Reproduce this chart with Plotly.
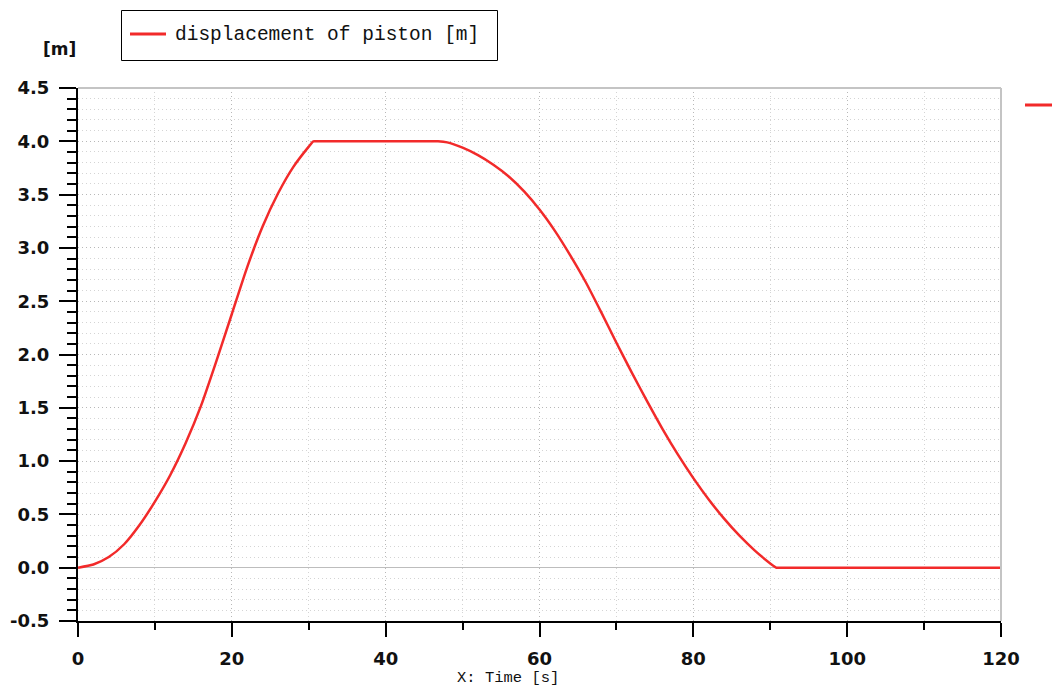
import plotly.graph_objects as go

# time [s] and displacement of piston [m]
time_s = [0.0, 2.0, 4.0, 6.0, 8.0, 10.0, 12.0, 14.0, 16.0, 18.0, 20.0, 22.0,
          24.0, 26.0, 28.0, 30.0, 30.6, 31.0,
          46.4, 46.8, 48.0, 50.0, 52.0, 54.0, 56.0, 58.0, 60.0, 62.0, 64.0, 66.0,
          68.0, 70.0, 72.0, 74.0, 76.0, 78.0, 80.0, 82.0, 84.0, 86.0, 88.0, 90.0,
          90.8, 91.2, 120.0]
displacement_m = [0.0, 0.03, 0.10, 0.22, 0.40, 0.62, 0.87, 1.17, 1.52, 1.94, 2.38, 2.82,
                  3.20, 3.51, 3.76, 3.95, 4.0, 4.0,
                  4.0, 4.0, 3.99, 3.94, 3.87, 3.78, 3.67, 3.53, 3.36, 3.16, 2.93, 2.68,
                  2.40, 2.11, 1.83, 1.56, 1.30, 1.06, 0.84, 0.64, 0.46, 0.30, 0.16, 0.04,
                  0.0, 0.0, 0.0]

x_ticks = [0, 20, 40, 60, 80, 100, 120]
y_ticks = [-0.5, 0.0, 0.5, 1.0, 1.5, 2.0, 2.5, 3.0, 3.5, 4.0, 4.5]
y_tick_labels = ["-0.5", "0.0", "0.5", "1.0", "1.5", "2.0", "2.5", "3.0", "3.5", "4.0", "4.5"]

series_name = "displacement of piston [m]"
x_title = "X: Time [s]"
y_unit = "[m]"

RED = "#f22a2a"
TICKFONT = dict(family="DejaVu Sans", size=18, color="#111111")
OFF = 8  # page body margin in the browser
W, H = 1060 - OFF, 691 - OFF
L, T = 78 - OFF, 88 - OFF
R, B = 59, 70
PW, PH = W - L - R, H - T - B


def px_x(px):
    return (px - OFF - L) / PW


def px_y(py):
    return (H - B - (py - OFF)) / PH


fig = go.Figure()
fig.add_trace(go.Scatter(x=time_s, y=displacement_m, mode="lines", name=series_name,
                         line=dict(color=RED, width=2.5, shape="spline", smoothing=0.6),
                         showlegend=False))

fig.update_layout(
    width=W, height=H,
    margin=dict(l=L, r=R, t=T, b=B, autoexpand=False),
    paper_bgcolor="white", plot_bgcolor="white",
    showlegend=False,
)

fig.update_xaxes(
    range=[0, 120], tickvals=x_ticks, ticktext=["<b>%d</b>" % v for v in x_ticks],
    automargin=False,
    showline=True, linecolor="black", linewidth=2,
    ticks="outside", ticklen=14, tickwidth=2, tickcolor="black",
    tickfont=TICKFONT, ticklabelstandoff=6,
    showgrid=True, gridcolor="#b8b8b8", gridwidth=1, griddash="1px,3px",
    zeroline=False,
    minor=dict(dtick=10, tick0=0, ticks="outside", ticklen=7, tickwidth=2, tickcolor="black",
               showgrid=True, gridcolor="#d4d4d4", gridwidth=1, griddash="1px,3px"),
)
fig.update_yaxes(
    range=[-0.5, 4.5], tickvals=y_ticks, ticktext=["<b>%s</b>" % s for s in y_tick_labels],
    automargin=False,
    showline=True, linecolor="black", linewidth=2,
    ticks="outside", ticklen=17, tickwidth=2, tickcolor="black",
    tickfont=TICKFONT, ticklabelstandoff=6,
    showgrid=True, gridcolor="#b8b8b8", gridwidth=1, griddash="1px,3px",
    zeroline=True, zerolinecolor="#bdbdbd", zerolinewidth=1,
    minor=dict(dtick=0.1, tick0=0, ticks="outside", ticklen=9, tickwidth=2, tickcolor="black",
               showgrid=True, gridcolor="#d4d4d4", gridwidth=1, griddash="1px,3px"),
)

# grey top and right border of plot area
fig.add_shape(type="line", xref="paper", yref="paper", x0=0, x1=1, y0=1, y1=1,
              line=dict(color="#c4c4c4", width=2))
fig.add_shape(type="line", xref="paper", yref="paper", x0=1, x1=1, y0=0, y1=1,
              line=dict(color="#c4c4c4", width=2))
# clipped legend mark at the far right
fig.add_shape(type="line", xref="paper", yref="paper", x0=px_x(1025), x1=px_x(1065),
              y0=px_y(105), y1=px_y(105), line=dict(color=RED, width=3))

# legend box (drawn by hand to match the reference size)
fig.add_shape(type="rect", xref="paper", yref="paper", x0=px_x(121.5), x1=px_x(497.5),
              y0=px_y(60.5), y1=px_y(10.5), line=dict(color="black", width=1),
              fillcolor="white")
fig.add_shape(type="line", xref="paper", yref="paper", x0=px_x(130), x1=px_x(166),
              y0=px_y(34), y1=px_y(34), line=dict(color=RED, width=3))
fig.add_annotation(xref="paper", yref="paper", x=px_x(173), y=px_y(35), xanchor="left",
                   yanchor="middle", text=series_name, showarrow=False,
                   font=dict(family="Liberation Mono", size=19.5, color="#111111"))

# y unit label
fig.add_annotation(xref="paper", yref="paper", x=px_x(78), y=px_y(49), xanchor="right",
                   yanchor="middle", text="<b>" + y_unit + "</b>", showarrow=False,
                   font=dict(family="DejaVu Sans", size=17, color="#111111"))
# x axis title
fig.add_annotation(xref="paper", yref="paper", x=px_x(508), y=px_y(678), xanchor="center",
                   yanchor="middle", text=x_title, showarrow=False,
                   font=dict(family="Liberation Mono", size=15.5, color="#111111"))

fig.write_html("out.html")
